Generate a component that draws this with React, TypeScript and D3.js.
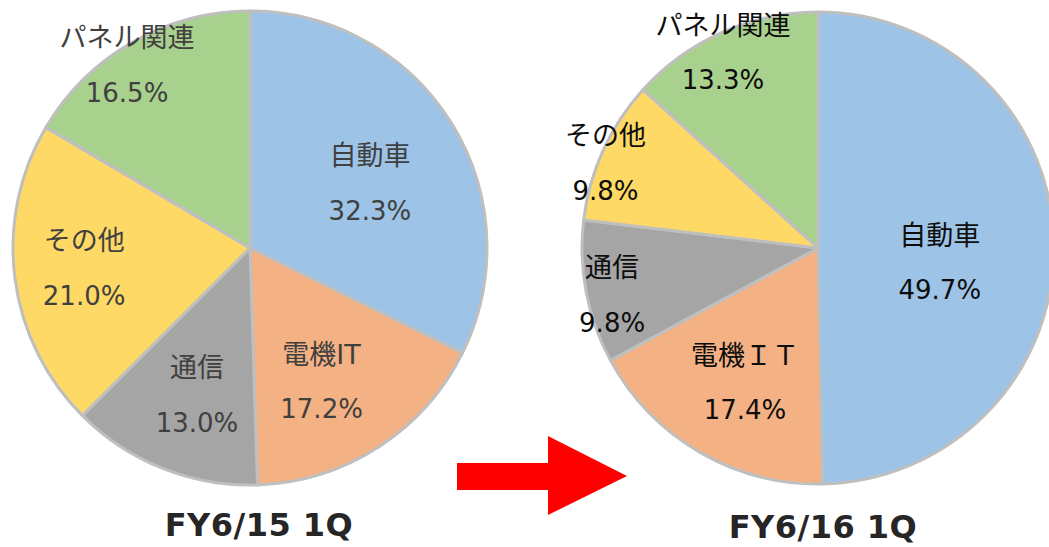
import React, { useEffect, useRef } from "react";
import * as d3 from "d3";

// slice order: clockwise from 12 o'clock
const names2015 = ["自動車", "電機IT", "通信", "その他", "パネル関連"];
const names2016 = ["自動車", "電機ＩＴ", "通信", "その他", "パネル関連"];
const values2015 = [32.3, 17.2, 13.0, 21.0, 16.5];
const values2016 = [49.7, 17.4, 9.8, 9.8, 13.3];
const titles = ["FY6/15 1Q", "FY6/16 1Q"];
const colors = ["#9DC3E6", "#F4B183", "#A5A5A5", "#FFD966", "#A9D18E"];

// label placement: fraction of radius + angle nudge (deg) from slice middle
const layout = [
  { cx: 250, cy: 248, r: 237, textColor: "#404040", labelR: [0.575, 0.64, 0.66, 0.705, 0.93], nudge: [3.5, 4.6, -1.8, 0.3, -4.2], titleX: 259, titleY: 536 },
  { cx: 818, cy: 248, r: 236, textColor: "#0d0d0d", labelR: [0.52, 0.65, 0.895, 0.97, 0.92], nudge: [7.5, -1.8, -2.1, -2.7, -2], titleX: 823, titleY: 538 },
];

const FONT = "'DejaVu Sans', 'Noto Sans CJK JP', sans-serif";

export default function App() {
  const ref = useRef<SVGSVGElement>(null);

  useEffect(() => {
    var svg = d3.select(ref.current);
    svg.selectAll("*").remove();

    var datasets = [
      { names: names2015, values: values2015 },
      { names: names2016, values: values2016 },
    ];

    var pie = d3.pie<number>().sort(null).value(d => d);
    var fmt = d3.format(".1f");

    datasets.forEach((ds, i) => {
      var L = layout[i];
      var g = svg.append("g").attr("transform", `translate(${L.cx}, ${L.cy})`);
      var arc = d3.arc<d3.PieArcDatum<number>>().innerRadius(0).outerRadius(L.r);
      var arcs = pie(ds.values);

      g.selectAll("path.slice")
        .data(arcs)
        .join("path")
        .attr("class", "slice")
        .attr("d", arc)
        .attr("fill", (d, j) => colors[j])
        .attr("stroke", "#BFBFBF")
        .attr("stroke-width", 3)
        .attr("stroke-linejoin", "round");

      var lab = g.selectAll("g.lab")
        .data(arcs)
        .join("g")
        .attr("class", "lab")
        .attr("transform", (d, j) => {
          var a = (d.startAngle + d.endAngle) / 2 + (L.nudge[j] * Math.PI) / 180;
          var rr = L.r * L.labelR[j];
          return `translate(${rr * Math.sin(a)}, ${-rr * Math.cos(a)})`;
        });

      lab.append("text")
        .attr("y", -27.5)
        .attr("text-anchor", "middle")
        .attr("dominant-baseline", "central")
        .style("font-family", FONT)
        .style("font-size", "27px")
        .attr("fill", L.textColor)
        .text((d, j) => ds.names[j]);

      lab.append("text")
        .attr("y", 27.5)
        .attr("text-anchor", "middle")
        .attr("dominant-baseline", "central")
        .style("font-family", FONT)
        .style("font-size", "26px")
        .attr("fill", L.textColor)
        .text(d => fmt(d.data) + "%");

      svg.append("text")
        .attr("x", L.titleX)
        .attr("y", L.titleY)
        .attr("text-anchor", "middle")
        .style("font-family", FONT)
        .style("font-size", "32px")
        .style("font-weight", "bold")
        .style("letter-spacing", "0.5px")
        .attr("fill", "#262626")
        .text(titles[i]);
    });

    // red arrow between the two pies
    svg.append("path")
      .attr("d", "M457,463 L548,463 L548,436 L627,476 L548,515 L548,490 L457,490 Z")
      .attr("fill", "#FF0000");
  }, []);

  return (
    <svg
      ref={ref}
      width={1049}
      height={547}
      style={{ position: "absolute", left: 0, top: 0, display: "block", background: "#fff" }}
    />
  );
}
